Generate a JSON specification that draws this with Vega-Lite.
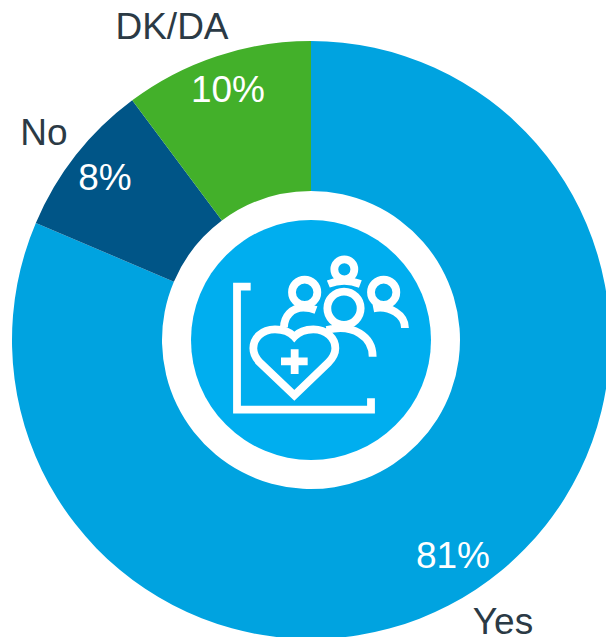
{
"$schema":"https://vega.github.io/schema/vega-lite/v6.json",
"width":606,"height":637,
"autosize":{"type":"none"},
"padding":0,
"background":"white",
"config":{"view":{"stroke":null}},
"datasets":{
"slices":[
{"answer":"Yes","share":81.4,"rank":1},
{"answer":"No","share":8.4,"rank":2},
{"answer":"DK/DA","share":10.2,"rank":3}
],
"labels":[
{"text":"81%","px":142,"py":217,"kind":"value"},
{"text":"8%","px":-206,"py":-161,"kind":"value"},
{"text":"10%","px":-83,"py":-249,"kind":"value"},
{"text":"Yes","px":192,"py":283,"kind":"name"},
{"text":"No","px":-267,"py":-206,"kind":"name"},
{"text":"DK/DA","px":-139,"py":-312,"kind":"name"}
],
"centre":[{"px":0,"py":0}]
},
"layer":[
{"data":{"name":"slices"},
 "mark":{"type":"arc","outerRadius":299,"innerRadius":149},
 "encoding":{
  "theta":{"field":"share","type":"quantitative","stack":true,"scale":{"domain":[0,100]}},
  "order":{"field":"rank","type":"quantitative"},
  "color":{"field":"answer","type":"nominal","legend":null,"scale":{"domain":["Yes","No","DK/DA"],"range":["#00A3E0","#005587","#43B02A"]}},
  "x":{"datum":0,"type":"quantitative","axis":null,"scale":{"domain":[-311,295]}},
  "y":{"datum":0,"type":"quantitative","axis":null,"scale":{"domain":[297,-340]}}
 }},
{"data":{"name":"centre"},
 "mark":{"type":"point","shape":"circle","filled":true,"size":57600,"color":"#00AEEF","opacity":1},
 "encoding":{
  "x":{"field":"px","type":"quantitative","axis":null,"scale":{"domain":[-311,295]}},
  "y":{"field":"py","type":"quantitative","axis":null,"scale":{"domain":[297,-340]}}
 }},
{"data":{"name":"centre"},
 "mark":{"type":"point","filled":false,"size":0.4444,"stroke":"white","strokeWidth":7.8,"opacity":1,"shape":"M-181,-160 L-222,-160 L-222,209 L180,209 L180,175 M-50,-10 C-68,-30 -88,-32 -108,-32 C-148,-32 -173,-5 -173,25 C-173,45 -163,58 -153,68 L-50,166 L52,68 C62,58 73,45 73,25 C73,-5 47,-32 7,-32 C-13,-32 -33,-28 -50,-10 Z M-90,64 L-10,64 M-49,28 L-49,102 M-57,-143 A38,38 0 1 1 19,-143 A38,38 0 1 1 -57,-143 Z M-81,-38 C-81,-70 -58,-97 -23,-97 C-8,-97 2,-95 15,-90 M180,-143 A38,38 0 1 1 256,-143 A38,38 0 1 1 180,-143 Z M187,-95 C237,-105 282,-75 282,-36 M49,-95 A50,50 0 1 1 149,-95 A50,50 0 1 1 49,-95 Z M47,-30 C127,-50 185,-10 185,50 M70,-212 A30,30 0 1 1 130,-212 A30,30 0 1 1 70,-212 Z M52,-168 C82,-180 117,-180 148,-168"},
 "encoding":{
  "x":{"field":"px","type":"quantitative","axis":null,"scale":{"domain":[-311,295]}},
  "y":{"field":"py","type":"quantitative","axis":null,"scale":{"domain":[297,-340]}}
 }},
{"data":{"name":"labels"},
 "mark":{"type":"text","font":"Liberation Sans","fontSize":37,"align":"center","baseline":"middle"},
 "encoding":{
  "x":{"field":"px","type":"quantitative","axis":null,"scale":{"domain":[-311,295]}},
  "y":{"field":"py","type":"quantitative","axis":null,"scale":{"domain":[297,-340]}},
  "text":{"field":"text"},
  "color":{"field":"kind","type":"nominal","legend":null,"scale":{"domain":["value","name"],"range":["#FFFFFF","#2B3A45"]}}
 }}
],
"resolve":{"scale":{"color":"independent"}}
}
